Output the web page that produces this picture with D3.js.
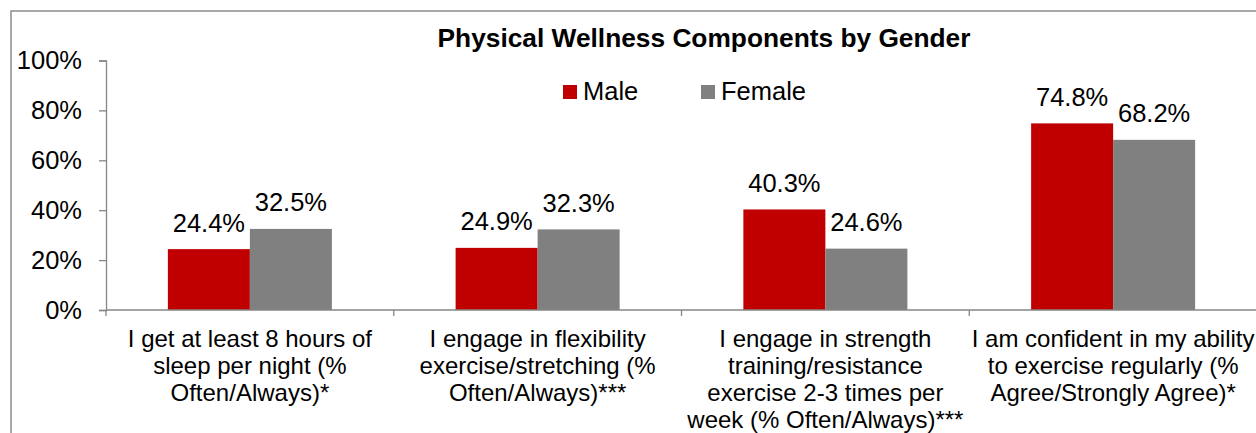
<!DOCTYPE html>
<html>
<head>
<meta charset="utf-8">
<script src="https://cdn.jsdelivr.net/npm/d3@7"></script>
<style>
  html, body { margin: 0; padding: 0; background: #fff; overflow: hidden; }
  svg { display: block; font-family: "Liberation Sans", Arial, sans-serif; }
</style>
</head>
<body>
<div class="chart"></div>
<script>
// categories, each as its wrapped label lines
const categories = [
  ["I get at least 8 hours of", "sleep per night (%", "Often/Always)*"],
  ["I engage in flexibility", "exercise/stretching (%", "Often/Always)***"],
  ["I engage in strength", "training/resistance", "exercise 2-3 times per", "week (% Often/Always)***"],
  ["I am confident in my ability", "to exercise regularly (%", "Agree/Strongly Agree)*"]
];
const series = ["Male", "Female"];
const male = [24.4, 24.9, 40.3, 74.8];
const female = [32.5, 32.3, 24.6, 68.2];
const yTicks = [0, 20, 40, 60, 80, 100];

const colors = { Male: "#C00000", Female: "#808080" };
const W = 1256, H = 433;
const plotLeft = 106, plotRight = 1257, plotTop = 60.5, plotBottom = 310;

const svg = d3.select(".chart").append("svg")
  .attr("width", W).attr("height", H);

// outer frame
svg.append("rect")
  .attr("x", 11).attr("y", 11)
  .attr("width", 1400).attr("height", 500)
  .attr("fill", "none").attr("stroke", "#8c8c8c").attr("stroke-width", 1.5);

const keys = categories.map((d, i) => i);
const x0 = d3.scaleBand().domain(keys).range([plotLeft, plotRight]).padding(0);
const bw = x0.bandwidth();
const gap = bw * 0.215;
const x1 = d3.scaleBand().domain(series).range([gap, bw - gap]);
const y = d3.scaleLinear().domain([0, 100]).range([plotBottom, plotTop]);

const rows = keys.map(i => ({ i, Male: male[i], Female: female[i] }));

// bars
const g = svg.selectAll("g.grp").data(rows).enter().append("g")
  .attr("class", "grp")
  .attr("transform", d => `translate(${x0(d.i)},0)`);

g.selectAll("rect").data(d => series.map(s => ({ s, v: d[s] }))).enter().append("rect")
  .attr("x", d => x1(d.s))
  .attr("y", d => y(d.v))
  .attr("width", x1.bandwidth())
  .attr("height", d => y(0) - y(d.v))
  .attr("fill", d => colors[d.s]);

g.selectAll("text.lbl").data(d => series.map(s => ({ s, v: d[s] }))).enter().append("text")
  .attr("class", "lbl")
  .attr("x", d => x1(d.s) + x1.bandwidth() / 2)
  .attr("y", d => y(d.v) - 17.5)
  .attr("text-anchor", "middle")
  .attr("font-size", 25.5)
  .attr("fill", "#000")
  .text(d => d.v.toFixed(1) + "%");

// y axis
const yAxis = d3.axisLeft(y).tickValues(yTicks).tickSize(7).tickPadding(17)
  .tickFormat(d => d + "%");
const ya = svg.append("g").attr("transform", `translate(${plotLeft},0)`).call(yAxis);
ya.select(".domain").attr("stroke", "#868686").attr("stroke-width", 1.3);
ya.selectAll(".tick line").attr("stroke", "#868686").attr("stroke-width", 1.3);
ya.selectAll(".tick text").attr("font-size", 25.5).attr("fill", "#000")
  .attr("font-family", "Liberation Sans, Arial, sans-serif");

// x axis: line with tick marks at category boundaries
const xa = svg.append("g");
xa.append("line")
  .attr("x1", plotLeft).attr("x2", plotRight + 10)
  .attr("y1", plotBottom).attr("y2", plotBottom)
  .attr("stroke", "#868686").attr("stroke-width", 1.3);
const bounds = keys.map(i => x0(i)).concat([x0(keys.length - 1) + bw]);
xa.selectAll("line.tk").data(bounds).enter().append("line")
  .attr("class", "tk")
  .attr("x1", d => d).attr("x2", d => d)
  .attr("y1", plotBottom).attr("y2", plotBottom + 6)
  .attr("stroke", "#868686").attr("stroke-width", 1.3);

// category labels
const cl = svg.selectAll("text.cat").data(keys).enter().append("text")
  .attr("class", "cat")
  .attr("text-anchor", "middle")
  .attr("font-size", 24)
  .attr("fill", "#000");
cl.selectAll("tspan").data(i => categories[i].map(t => ({ i, t }))).enter().append("tspan")
  .attr("x", d => x0(d.i) + bw / 2)
  .attr("y", (d, k) => 346.5 + k * 27.2)
  .text(d => d.t);

// title
svg.append("text")
  .attr("x", 704).attr("y", 47)
  .attr("text-anchor", "middle")
  .attr("font-size", 26.3)
  .attr("font-weight", "bold")
  .attr("fill", "#000")
  .text("Physical Wellness Components by Gender");

// legend
const legX = [563, 701];
const lg = svg.selectAll("g.leg").data(series).enter().append("g")
  .attr("class", "leg")
  .attr("transform", (d, i) => `translate(${legX[i]},85)`);
lg.append("rect").attr("width", 14).attr("height", 14).attr("fill", d => colors[d]);
lg.append("text").attr("x", 20).attr("y", 15)
  .attr("font-size", 25.5).attr("fill", "#000").text(d => d);
</script>
</body>
</html>
